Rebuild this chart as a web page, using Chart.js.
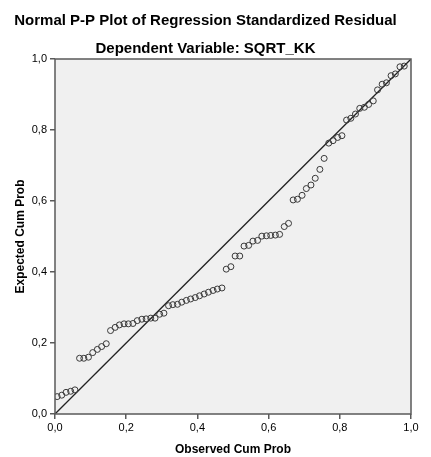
<!DOCTYPE html>
<html>
<head>
<meta charset="utf-8">
<script src="https://cdn.jsdelivr.net/npm/chart.js@4.4.1/dist/chart.umd.min.js"></script>
<style>
  html, body { margin: 0; padding: 0; background: #fff; }
  #wrap { width: 431px; height: 457px; position: relative; }
</style>
</head>
<body>
<div id="wrap"><canvas id="ppChart"></canvas></div>
<script>
// observed vs expected cumulative probability
const observedCum = [
  0.006, 0.019, 0.031, 0.044, 0.056, 0.069, 0.081, 0.094, 0.106, 0.119,
  0.131, 0.144, 0.156, 0.169, 0.181, 0.194, 0.206, 0.219, 0.231, 0.244,
  0.256, 0.269, 0.281, 0.294, 0.306, 0.319, 0.331, 0.344, 0.356, 0.369,
  0.381, 0.394, 0.406, 0.419, 0.431, 0.444, 0.456, 0.469, 0.481, 0.494,
  0.506, 0.519, 0.531, 0.544, 0.556, 0.569, 0.581, 0.594, 0.606, 0.619,
  0.631, 0.644, 0.656, 0.669, 0.681, 0.694, 0.706, 0.719, 0.731, 0.744,
  0.756, 0.769, 0.781, 0.794, 0.806, 0.819, 0.831, 0.844, 0.856, 0.869,
  0.881, 0.894, 0.906, 0.919, 0.931, 0.944, 0.956, 0.969, 0.981
];
const expectedCum = [
  0.049, 0.053, 0.061, 0.064, 0.068, 0.157, 0.157, 0.160, 0.173, 0.182,
  0.190, 0.198, 0.235, 0.244, 0.251, 0.254, 0.254, 0.255, 0.263, 0.267,
  0.268, 0.270, 0.270, 0.281, 0.284, 0.305, 0.308, 0.309, 0.315, 0.320,
  0.324, 0.328, 0.333, 0.338, 0.343, 0.348, 0.352, 0.355, 0.408, 0.415,
  0.445, 0.445, 0.473, 0.475, 0.487, 0.489, 0.501, 0.502, 0.503, 0.504,
  0.506, 0.528, 0.537, 0.603, 0.605, 0.616, 0.635, 0.645, 0.664, 0.689,
  0.720, 0.763, 0.770, 0.779, 0.784, 0.828, 0.833, 0.845, 0.861, 0.864,
  0.872, 0.882, 0.913, 0.929, 0.933, 0.953, 0.958, 0.978, 0.980
];
const refLine = [0, 1];
const tickValues = [0, 0.2, 0.4, 0.6, 0.8, 1.0];
const tickLabels = ["0,0", "0,2", "0,4", "0,6", "0,8", "1,0"];

const points = observedCum.map((x, i) => ({ x: x, y: expectedCum[i] }));
const diagonal = refLine.map(v => ({ x: v, y: v }));

// grey plot area with a frame, like SPSS
const plotFrame = {
  id: "plotFrame",
  beforeDatasetsDraw(chart) {
    const { ctx, chartArea: a } = chart;
    ctx.save();
    ctx.fillStyle = "#f0f0f0";
    ctx.fillRect(a.left, a.top, a.right - a.left, a.bottom - a.top);
    ctx.restore();
  },
  afterDraw(chart) {
    const { ctx, chartArea: a } = chart;
    ctx.save();
    ctx.strokeStyle = "#5a5a5a";
    ctx.lineWidth = 1.5;
    ctx.strokeRect(a.left, a.top, a.right - a.left, a.bottom - a.top);
    ctx.restore();
  }
};

const fontFamily = "'Liberation Sans', Arial, sans-serif";
const axisFont = { family: fontFamily, size: 11 };
const titleFont = { family: fontFamily, size: 12, weight: "bold" };

const setTicks = (scale) => {
  scale.ticks = tickValues.map(v => ({ value: v }));
};

const ctx = document.getElementById("ppChart").getContext("2d");
new Chart(ctx, {
  type: "scatter",
  data: {
    datasets: [
      {
        data: points,
        pointStyle: "circle",
        pointRadius: 3,
        pointBorderWidth: 1,
        pointBorderColor: "#3a3a3a",
        pointBackgroundColor: "rgba(0,0,0,0)",
        showLine: false,
        order: 1
      },
      {
        data: diagonal,
        showLine: true,
        borderColor: "#222",
        borderWidth: 1.3,
        pointRadius: 0,
        order: 2
      }
    ]
  },
  options: {
    responsive: true,
    maintainAspectRatio: false,
    animation: false,
    layout: { padding: { top: 0, right: 20, left: 0, bottom: 0 } },
    plugins: {
      legend: { display: false },
      tooltip: { enabled: false },
      title: {
        display: true,
        text: "Normal P-P Plot of Regression Standardized Residual",
        color: "#000",
        font: { family: fontFamily, size: 15, weight: "bold" },
        padding: { top: 12, bottom: 5 }
      },
      subtitle: {
        display: true,
        text: "Dependent Variable: SQRT_KK",
        color: "#000",
        font: { family: fontFamily, size: 15, weight: "bold" },
        padding: { top: 5, bottom: 1 }
      }
    },
    scales: {
      x: {
        type: "linear",
        min: 0,
        max: 1,
        afterBuildTicks: setTicks,
        afterFit: (scale) => { scale.height = 43; },
        grid: { drawOnChartArea: false, drawTicks: true, tickLength: 5, color: "#5a5a5a", lineWidth: 1.5 },
        border: { display: false },
        ticks: {
          color: "#000",
          font: axisFont,
          padding: 2,
          maxRotation: 0,
          callback: (v) => tickLabels[Math.round(v * 5)]
        },
        title: {
          display: true,
          text: "Observed Cum Prob",
          color: "#000",
          font: titleFont,
          padding: { top: 0, bottom: 0 }
        }
      },
      y: {
        type: "linear",
        min: 0,
        max: 1,
        afterBuildTicks: setTicks,
        afterFit: (scale) => { scale.width = 55; },
        grid: { drawOnChartArea: false, drawTicks: true, tickLength: 5, color: "#5a5a5a", lineWidth: 1.5 },
        border: { display: false },
        ticks: {
          color: "#000",
          font: axisFont,
          padding: 3,
          callback: (v) => tickLabels[Math.round(v * 5)]
        },
        title: {
          display: true,
          text: "Expected Cum Prob",
          color: "#000",
          font: titleFont,
          padding: { top: 13, bottom: 0 }
        }
      }
    }
  },
  plugins: [plotFrame]
});
</script>
</body>
</html>
